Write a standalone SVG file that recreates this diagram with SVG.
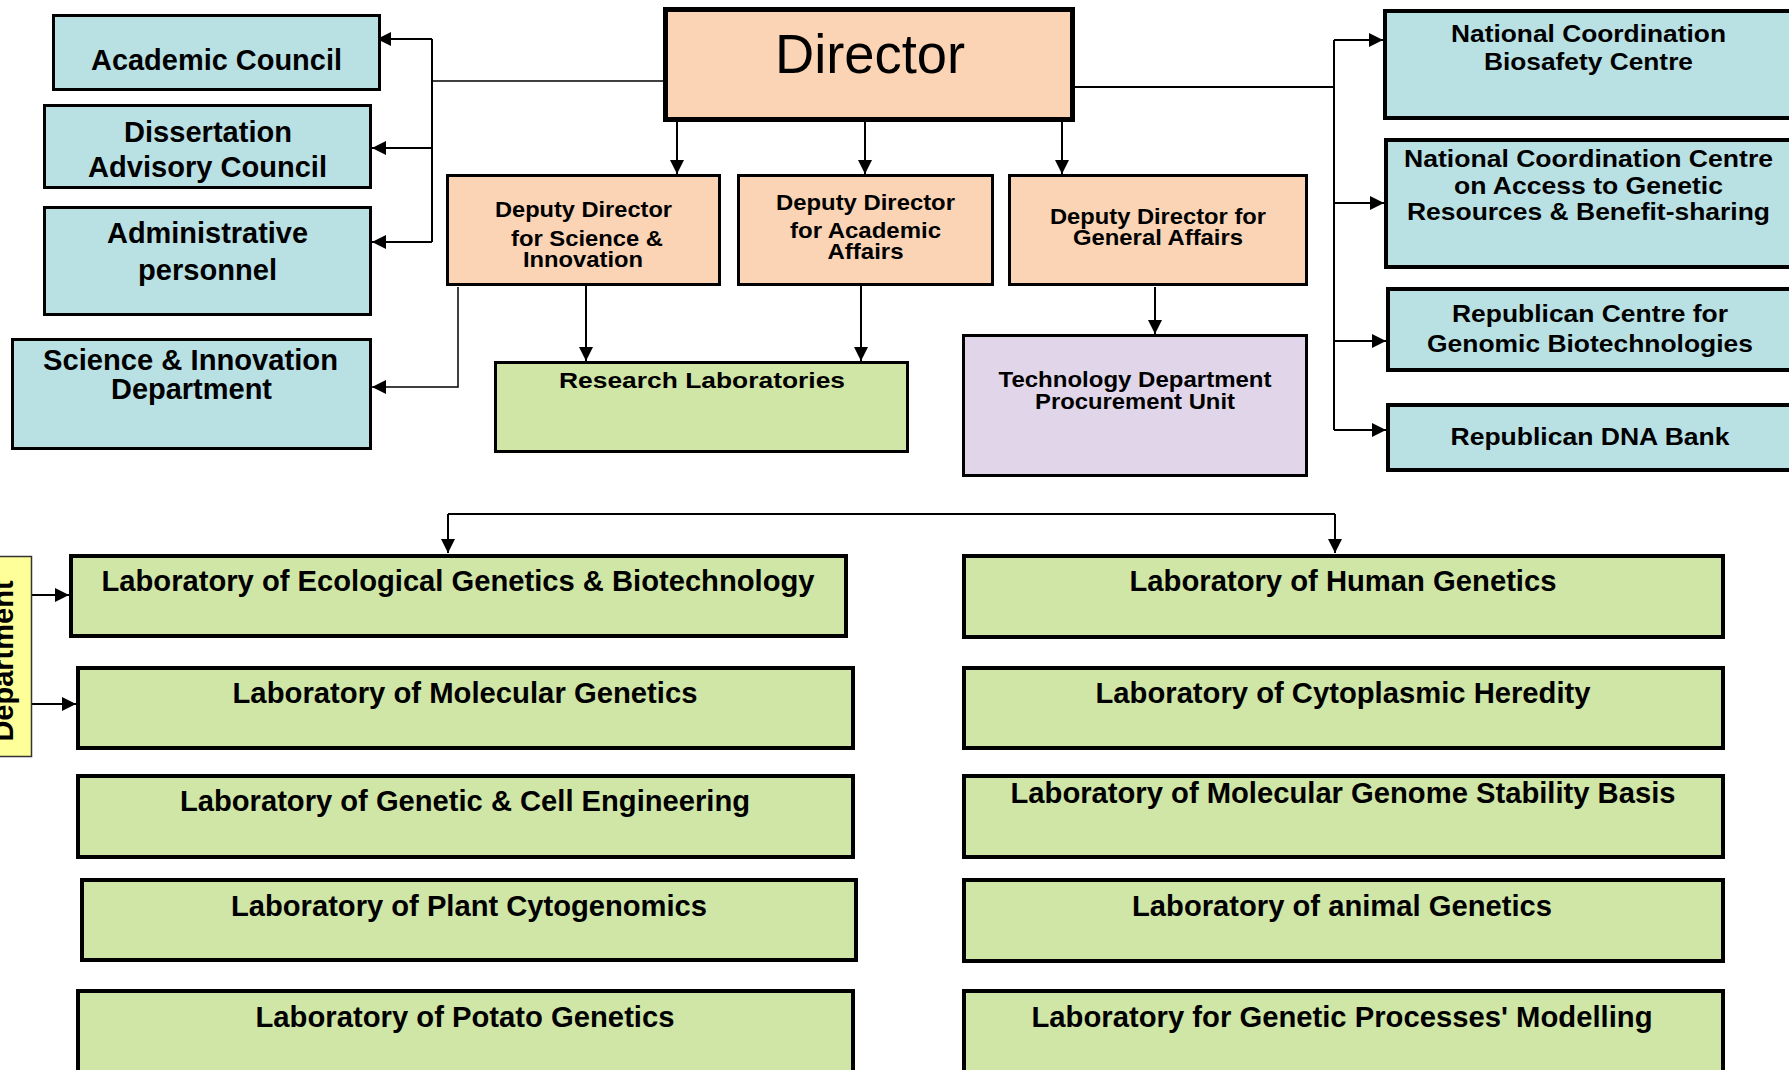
<svg xmlns="http://www.w3.org/2000/svg" width="1789" height="1070" viewBox="0 0 1789 1070">
<defs>
<marker id="arr" markerUnits="userSpaceOnUse" markerWidth="14" markerHeight="14" refX="14" refY="7" orient="auto">
<path d="M0,0 L14,7 L0,14 z" fill="#000"/>
</marker>
<style>
.blue{fill:#B9E0E3;stroke:#000;stroke-width:3}
.blue4{fill:#B9E0E3;stroke:#000;stroke-width:4}
.peach{fill:#FAD4B4;stroke:#000;stroke-width:3}
.green{fill:#CFE6A6;stroke:#000;stroke-width:4}
.purple{fill:#E1D6E9;stroke:#000;stroke-width:3}
.yellow{fill:#FFFF99;stroke:#333;stroke-width:1.5}
text{font-family:"Liberation Sans",Arial,sans-serif;font-weight:bold;fill:#000;text-anchor:middle}
.f29{font-size:29px}
.f24{font-size:24px}
.f22{font-size:22px}
.f21{font-size:21.5px}
.conn path{fill:none;stroke:#000;stroke-width:2}
.conn path.arr{marker-end:url(#arr)}
</style>
</defs>
<rect width="1789" height="1070" fill="#fff"/>

<g class="conn" id="connectors">
<path d="M663,81 L432,81" style="stroke-width:1.5"/>
<path d="M432,39 L432,242"/>
<path class="arr" d="M432,39 L377,39"/>
<path class="arr" d="M432,148 L372,148"/>
<path class="arr" d="M432,242 L372,242"/>
<path class="arr" d="M458,287 L458,387 L372,387" style="stroke-width:1.5"/>
<path class="arr" d="M677,122 L677,174"/>
<path class="arr" d="M865,122 L865,174"/>
<path class="arr" d="M1062,122 L1062,174"/>
<path class="arr" d="M586,286 L586,361"/>
<path class="arr" d="M861,286 L861,361"/>
<path class="arr" d="M1155,287 L1155,334"/>
<path d="M1075,87 L1334,87"/>
<path d="M1334,40 L1334,430"/>
<path class="arr" d="M1334,40 L1383,40"/>
<path class="arr" d="M1334,203 L1384,203"/>
<path class="arr" d="M1334,341 L1386,341"/>
<path class="arr" d="M1334,430 L1386,430"/>
<path d="M448,514 L1335,514"/>
<path class="arr" d="M448,514 L448,553"/>
<path class="arr" d="M1335,514 L1335,553"/>
<path class="arr" d="M32,595 L69,595"/>
<path class="arr" d="M32,704 L76,704"/>
</g>

<g id="academic-council">
<rect class="blue" x="53.5" y="15.5" width="326" height="74"/>
<text class="f29" x="216.5" y="70" textLength="251" lengthAdjust="spacingAndGlyphs">Academic Council</text>
</g>
<g id="dissertation-council">
<rect class="blue" x="44.5" y="105.5" width="326" height="82"/>
<text class="f29" x="208" y="142" textLength="168" lengthAdjust="spacingAndGlyphs">Dissertation</text>
<text class="f29" x="207.5" y="177" textLength="239" lengthAdjust="spacingAndGlyphs">Advisory Council</text>
</g>
<g id="administrative-personnel">
<rect class="blue" x="44.5" y="207.5" width="326" height="107"/>
<text class="f29" x="207.5" y="243" textLength="201" lengthAdjust="spacingAndGlyphs">Administrative</text>
<text class="f29" x="207.5" y="280" textLength="139" lengthAdjust="spacingAndGlyphs">personnel</text>
</g>
<g id="science-innovation-dept">
<rect class="blue" x="12.5" y="339.5" width="358" height="109"/>
<text class="f29" x="190.5" y="370" textLength="295" lengthAdjust="spacingAndGlyphs">Science &amp; Innovation</text>
<text class="f29" x="191.5" y="399" textLength="161" lengthAdjust="spacingAndGlyphs">Department</text>
</g>

<g id="director">
<rect x="665.5" y="9.5" width="407" height="110" fill="#FAD4B4" stroke="#000" stroke-width="5"/>
<text x="870" y="72.5" style="font-size:55px;font-weight:normal" textLength="190" lengthAdjust="spacingAndGlyphs">Director</text>
</g>

<g id="deputy-science">
<rect class="peach" x="447.5" y="175.5" width="272" height="109"/>
<text class="f21" x="583.5" y="217" textLength="177" lengthAdjust="spacingAndGlyphs">Deputy Director</text>
<text class="f21" x="587" y="246" textLength="152" lengthAdjust="spacingAndGlyphs">for Science &amp;</text>
<text class="f21" x="583" y="267" textLength="120" lengthAdjust="spacingAndGlyphs">Innovation</text>
</g>
<g id="deputy-academic">
<rect class="peach" x="738.5" y="175.5" width="254" height="109"/>
<text class="f21" x="865.5" y="210" textLength="179" lengthAdjust="spacingAndGlyphs">Deputy Director</text>
<text class="f21" x="865.5" y="238" textLength="151" lengthAdjust="spacingAndGlyphs">for Academic</text>
<text class="f21" x="865.5" y="259" textLength="76" lengthAdjust="spacingAndGlyphs">Affairs</text>
</g>
<g id="deputy-general">
<rect class="peach" x="1009.5" y="175.5" width="297" height="109"/>
<text class="f21" x="1158" y="224" textLength="216" lengthAdjust="spacingAndGlyphs">Deputy Director for</text>
<text class="f21" x="1158" y="245" textLength="170" lengthAdjust="spacingAndGlyphs">General Affairs</text>
</g>

<g id="research-labs">
<rect x="495.5" y="362.5" width="412" height="89" fill="#CFE6A6" stroke="#000" stroke-width="3"/>
<text class="f22" x="702" y="388" textLength="286" lengthAdjust="spacingAndGlyphs">Research Laboratories</text>
</g>
<g id="technology-dept">
<rect class="purple" x="963.5" y="335.5" width="343" height="140"/>
<text class="f22" x="1135" y="387" textLength="273" lengthAdjust="spacingAndGlyphs">Technology Department</text>
<text class="f22" x="1135" y="409" textLength="200" lengthAdjust="spacingAndGlyphs">Procurement Unit</text>
</g>

<g id="biosafety-centre">
<rect class="blue4" x="1385" y="11" width="420" height="107"/>
<text class="f24" x="1588.5" y="42" textLength="275" lengthAdjust="spacingAndGlyphs">National Coordination</text>
<text class="f24" x="1588.5" y="70" textLength="209" lengthAdjust="spacingAndGlyphs">Biosafety Centre</text>
</g>
<g id="access-centre">
<rect class="blue4" x="1386" y="140" width="420" height="127"/>
<text class="f24" x="1588.5" y="167" textLength="369" lengthAdjust="spacingAndGlyphs">National Coordination Centre</text>
<text class="f24" x="1588.5" y="194" textLength="269" lengthAdjust="spacingAndGlyphs">on Access to Genetic</text>
<text class="f24" x="1588.5" y="220" textLength="363" lengthAdjust="spacingAndGlyphs">Resources &amp; Benefit-sharing</text>
</g>
<g id="genomic-centre">
<rect class="blue4" x="1388" y="289" width="420" height="81"/>
<text class="f24" x="1590" y="322" textLength="276" lengthAdjust="spacingAndGlyphs">Republican Centre for</text>
<text class="f24" x="1590" y="352" textLength="326" lengthAdjust="spacingAndGlyphs">Genomic Biotechnologies</text>
</g>
<g id="dna-bank">
<rect class="blue4" x="1388" y="405" width="420" height="65"/>
<text class="f24" x="1590" y="445" textLength="279" lengthAdjust="spacingAndGlyphs">Republican DNA Bank</text>
</g>

<g id="department-side">
<rect class="yellow" x="-1" y="556.5" width="32.5" height="200"/>
<text class="f29" transform="translate(13,661) rotate(-90)">Department</text>
</g>

<g id="lab-ecological">
<rect class="green" x="71" y="556" width="775" height="80"/>
<text class="f29" x="458" y="591" textLength="713" lengthAdjust="spacingAndGlyphs">Laboratory of Ecological Genetics &amp; Biotechnology</text>
</g>
<g id="lab-molecular">
<rect class="green" x="78" y="668" width="775" height="80"/>
<text class="f29" x="465" y="703" textLength="465" lengthAdjust="spacingAndGlyphs">Laboratory of Molecular Genetics</text>
</g>
<g id="lab-cell-engineering">
<rect class="green" x="78" y="776" width="775" height="81"/>
<text class="f29" x="465" y="811" textLength="570" lengthAdjust="spacingAndGlyphs">Laboratory of Genetic &amp; Cell Engineering</text>
</g>
<g id="lab-plant">
<rect class="green" x="82" y="880" width="774" height="80"/>
<text class="f29" x="469" y="915.5" textLength="476" lengthAdjust="spacingAndGlyphs">Laboratory of Plant Cytogenomics</text>
</g>
<g id="lab-potato">
<rect class="green" x="78" y="991" width="775" height="100"/>
<text class="f29" x="465" y="1026.5" textLength="419" lengthAdjust="spacingAndGlyphs">Laboratory of Potato Genetics</text>
</g>

<g id="lab-human">
<rect class="green" x="964" y="556" width="759" height="81"/>
<text class="f29" x="1343" y="591" textLength="427" lengthAdjust="spacingAndGlyphs">Laboratory of Human Genetics</text>
</g>
<g id="lab-cytoplasmic">
<rect class="green" x="964" y="668" width="759" height="80"/>
<text class="f29" x="1343" y="703" textLength="495" lengthAdjust="spacingAndGlyphs">Laboratory of Cytoplasmic Heredity</text>
</g>
<g id="lab-genome-stability">
<rect class="green" x="964" y="776" width="759" height="81"/>
<text class="f29" x="1343" y="802.5" textLength="665" lengthAdjust="spacingAndGlyphs">Laboratory of Molecular Genome Stability Basis</text>
</g>
<g id="lab-animal">
<rect class="green" x="964" y="880" width="759" height="81"/>
<text class="f29" x="1342" y="915.5" textLength="420" lengthAdjust="spacingAndGlyphs">Laboratory of animal Genetics</text>
</g>
<g id="lab-modelling">
<rect class="green" x="964" y="991" width="759" height="100"/>
<text class="f29" x="1342" y="1026.5" textLength="621" lengthAdjust="spacingAndGlyphs">Laboratory for Genetic Processes' Modelling</text>
</g>
</svg>
